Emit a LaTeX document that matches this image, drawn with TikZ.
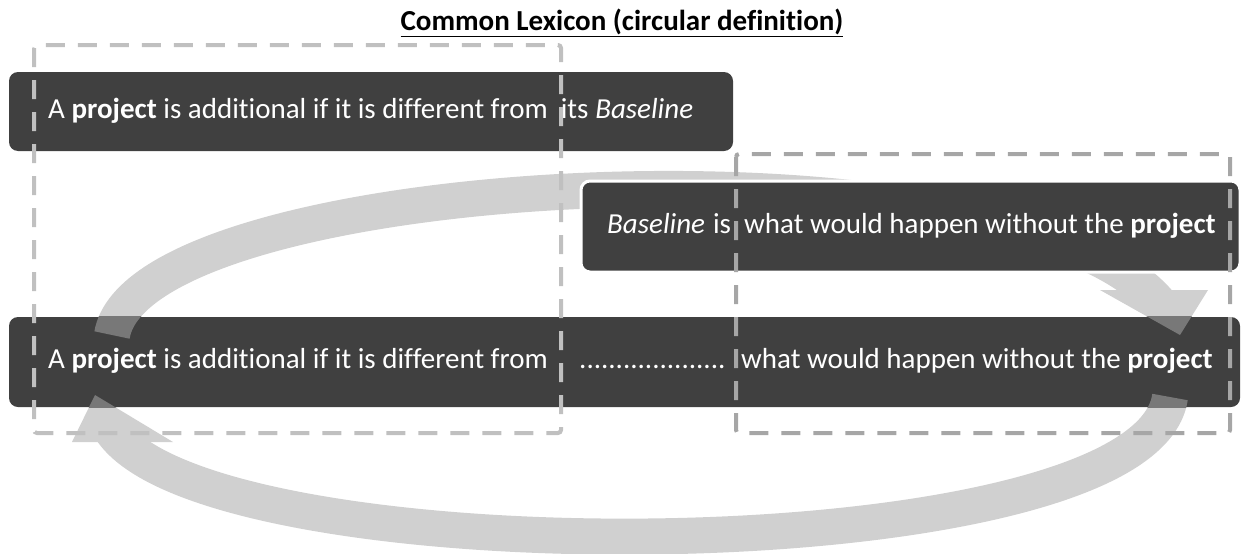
\documentclass[tikz,border=0pt]{standalone}
\usepackage{fontspec}
\setmainfont{Carlito}[Ligatures=NoCommon]
\usetikzlibrary{positioning}

\definecolor{barfill}{HTML}{404040}
\definecolor{arclight}{HTML}{D0D0D0}
\definecolor{arcdark}{HTML}{787878}
\definecolor{framelight}{HTML}{C0C0C0}
\definecolor{framedark}{HTML}{A6A6A6}

% both curved arrows, in one colour
\newcommand{\loopfill}[1]{%
  \begin{scope}
    \clip (0,0) -- (1242,0) -- (1242,290.5) -- (900,290.5) -- (900,554) -- (0,554) -- cycle;
    \draw[band, draw=#1] (upfoot) .. controls (140,170) and (1010,125) .. (upneck);
  \end{scope}
  \fill[#1] (1100,290) -- (1208,290) -- (uptip) -- cycle;
  \begin{scope}
    \clip (0,0) -- (1242,0) -- (1242,554) -- (0,554) -- (0,441.5) -- (400,441.5) -- (400,0) -- cycle;
    \draw[band, draw=#1] (lowfoot) .. controls (1145,575) and (203,580) .. (lowneck);
  \end{scope}
  \fill[#1] (72,442) -- (173,442) -- (lowtip) -- cycle;
}

\begin{document}
\begin{tikzpicture}[x=1pt, y=-1pt, font=\fontsize{29}{34}\selectfont,
  bar/.style={fill=barfill, rounded corners=9pt, inner sep=0pt},
  say/.style={anchor=base west, inner sep=0pt, text=white},
  band/.style={line width=36pt},
  frame/.style={line width=4pt, dash pattern=on 19pt off 13pt, rounded corners=3pt}]
\useasboundingbox (0,0) rectangle (1242,554);
\coordinate (upfoot) at (112,335); \coordinate (upneck) at (1160,304); \coordinate (uptip) at (1180,335);
\coordinate (lowfoot) at (1170,397); \coordinate (lowneck) at (110,428); \coordinate (lowtip) at (95,395);
\loopfill{arclight}
\node[bar, minimum width=724pt, minimum height=79pt] (first) at (371,111.5) {};
\node[bar, minimum width=1231pt, minimum height=90pt] (third) at (624.5,362) {};
\begin{scope}
  \clip (third.north west) rectangle (third.south east);
  \loopfill{arcdark}
\end{scope}
\node[bar, draw=white, line width=3pt, minimum width=659pt, minimum height=91pt] (second) at (910.5,226.5) {};

\node[say] (firsttxt) at (48,118) {A \textbf{project} is additional if it is different from\ \ its \textit{Baseline}};
\node[say] (basetxt) at (607,233) {\textit{Baseline}\hspace{8pt}is};
\node[say] (whattxt) at (744,233) {what would happen without the \textbf{project}};
\node[say] (difftxt) at (48,368) {A \textbf{project} is additional if it is different from};
\node[say] (dots) at (579,368) {....................};
\node[say] (whattxt2) at (741,368) {what would happen without the \textbf{project}};

\draw[frame, framelight] (34,45) rectangle (561,433);
\draw[frame, framedark] (736,154) rectangle (1230,433);

\node[anchor=base, inner sep=0pt, font=\fontsize{29}{34}\selectfont\bfseries] (title) at (622,30) {\underline{Common Lexicon (circular definition)}};
\end{tikzpicture}
\end{document}
